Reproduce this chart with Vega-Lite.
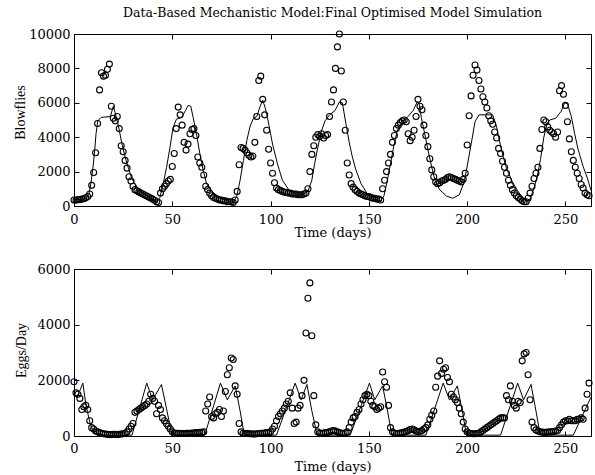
{
"$schema": "https://vega.github.io/schema/vega-lite/v6.json",
"background": "white",
"padding": {"left": 12, "top": 6, "right": 6, "bottom": 4},
"config": {
  "font": "DejaVu Serif",
  "view": {"stroke": "#000", "strokeWidth": 1},
  "axis": {"grid": false, "domain": false, "tickColor": "#000", "tickSize": -5, "tickWidth": 1, "labelColor": "#000", "labelFontSize": 13, "labelFont": "DejaVu Serif", "titleFont": "DejaVu Serif", "titleFontSize": 13, "titleFontWeight": "normal", "titleColor": "#000", "labelFlush": false, "labelOverlap": false, "labelBound": false},
  "title": {"font": "DejaVu Serif", "fontSize": 12.5, "fontWeight": "normal", "color": "#000"}
},
"datasets": {
"flies": [
{"day":0,"value":350},{"day":1,"value":330},{"day":2,"value":380},{"day":3,"value":360},{"day":4,"value":400},{"day":5,"value":420},{"day":6,"value":480},{"day":7,"value":550},{"day":8,"value":700},{"day":9,"value":1200},
{"day":10,"value":1950},{"day":11,"value":3100},{"day":12,"value":4800},{"day":13,"value":6750},{"day":14,"value":7750},{"day":15,"value":7550},{"day":16,"value":7600},{"day":17,"value":7950},{"day":18,"value":8250},{"day":19,"value":5800},
{"day":20,"value":5100},{"day":21,"value":4950},{"day":22,"value":5200},{"day":23,"value":4500},{"day":24,"value":3500},{"day":25,"value":3150},{"day":26,"value":2650},{"day":27,"value":2200},{"day":28,"value":1700},{"day":29,"value":1450},
{"day":30,"value":1150},{"day":31,"value":950},{"day":32,"value":880},{"day":33,"value":820},{"day":34,"value":760},{"day":35,"value":700},{"day":36,"value":640},{"day":37,"value":580},{"day":38,"value":520},{"day":39,"value":460},
{"day":40,"value":400},{"day":41,"value":330},{"day":42,"value":250},{"day":43,"value":200},{"day":44,"value":750},{"day":45,"value":1000},{"day":46,"value":1150},{"day":47,"value":1300},{"day":48,"value":1450},{"day":49,"value":1550},
{"day":50,"value":2300},{"day":51,"value":3050},{"day":52,"value":4500},{"day":53,"value":5750},{"day":54,"value":5300},{"day":55,"value":4700},{"day":56,"value":3700},{"day":57,"value":3250},{"day":58,"value":3600},{"day":59,"value":4200},
{"day":60,"value":4450},{"day":61,"value":4500},{"day":62,"value":4100},{"day":63,"value":2850},{"day":64,"value":2500},{"day":65,"value":2250},{"day":66,"value":1800},{"day":67,"value":1150},{"day":68,"value":950},{"day":69,"value":750},
{"day":70,"value":600},{"day":71,"value":500},{"day":72,"value":450},{"day":73,"value":400},{"day":74,"value":350},{"day":75,"value":350},{"day":76,"value":300},{"day":77,"value":300},{"day":78,"value":250},{"day":79,"value":250},
{"day":80,"value":250},{"day":81,"value":200},{"day":82,"value":350},{"day":83,"value":850},{"day":84,"value":2400},{"day":85,"value":3400},{"day":86,"value":3350},{"day":87,"value":3250},{"day":88,"value":3100},{"day":89,"value":2950},
{"day":90,"value":2850},{"day":91,"value":2900},{"day":92,"value":3700},{"day":93,"value":5200},{"day":94,"value":7300},{"day":95,"value":7550},{"day":96,"value":6200},{"day":97,"value":5300},{"day":98,"value":4400},{"day":99,"value":3300},
{"day":100,"value":2500},{"day":101,"value":1900},{"day":102,"value":1350},{"day":103,"value":1050},{"day":104,"value":950},{"day":105,"value":900},{"day":106,"value":850},{"day":107,"value":800},{"day":108,"value":800},{"day":109,"value":750},
{"day":110,"value":750},{"day":111,"value":700},{"day":112,"value":700},{"day":113,"value":700},{"day":114,"value":650},{"day":115,"value":650},{"day":116,"value":650},{"day":117,"value":700},{"day":118,"value":750},{"day":119,"value":1000},
{"day":120,"value":2000},{"day":121,"value":3000},{"day":122,"value":3500},{"day":123,"value":4000},{"day":124,"value":4150},{"day":125,"value":4050},{"day":126,"value":4200},{"day":127,"value":3950},{"day":128,"value":4100},{"day":129,"value":4150},
{"day":130,"value":5200},{"day":131,"value":6050},{"day":132,"value":6750},{"day":133,"value":8000},{"day":134,"value":9250},{"day":135,"value":10000},{"day":136,"value":7850},{"day":137,"value":6050},{"day":138,"value":4400},{"day":139,"value":2500},
{"day":140,"value":1800},{"day":141,"value":1300},{"day":142,"value":1100},{"day":143,"value":950},{"day":144,"value":850},{"day":145,"value":750},{"day":146,"value":700},{"day":147,"value":650},{"day":148,"value":600},{"day":149,"value":550},
{"day":150,"value":550},{"day":151,"value":500},{"day":152,"value":450},{"day":153,"value":450},{"day":154,"value":400},{"day":155,"value":400},{"day":156,"value":350},{"day":157,"value":1000},{"day":158,"value":1500},{"day":159,"value":2000},
{"day":160,"value":2500},{"day":161,"value":3000},{"day":162,"value":3700},{"day":163,"value":4100},{"day":164,"value":4500},{"day":165,"value":4700},{"day":166,"value":4850},{"day":167,"value":4950},{"day":168,"value":5000},{"day":169,"value":4900},
{"day":170,"value":4200},{"day":171,"value":3800},{"day":172,"value":4000},{"day":173,"value":4400},{"day":174,"value":5200},{"day":175,"value":6200},{"day":176,"value":5800},{"day":177,"value":5600},{"day":178,"value":4700},{"day":179,"value":4100},
{"day":180,"value":3450},{"day":181,"value":2750},{"day":182,"value":2100},{"day":183,"value":1700},{"day":184,"value":1400},{"day":185,"value":1300},{"day":186,"value":1350},{"day":187,"value":1450},{"day":188,"value":1500},{"day":189,"value":1550},
{"day":190,"value":1650},{"day":191,"value":1700},{"day":192,"value":1650},{"day":193,"value":1600},{"day":194,"value":1550},{"day":195,"value":1500},{"day":196,"value":1450},{"day":197,"value":1400},{"day":198,"value":1550},{"day":199,"value":1900},
{"day":200,"value":3550},{"day":201,"value":5250},{"day":202,"value":6400},{"day":203,"value":7600},{"day":204,"value":8200},{"day":205,"value":7900},{"day":206,"value":7300},{"day":207,"value":6800},{"day":208,"value":6350},{"day":209,"value":6050},
{"day":210,"value":5700},{"day":211,"value":5250},{"day":212,"value":4950},{"day":213,"value":4750},{"day":214,"value":4300},{"day":215,"value":3950},{"day":216,"value":3350},{"day":217,"value":3050},{"day":218,"value":2600},{"day":219,"value":2250},
{"day":220,"value":1900},{"day":221,"value":1500},{"day":222,"value":1200},{"day":223,"value":950},{"day":224,"value":750},{"day":225,"value":600},{"day":226,"value":500},{"day":227,"value":400},{"day":228,"value":300},{"day":229,"value":250},
{"day":230,"value":250},{"day":231,"value":450},{"day":232,"value":750},{"day":233,"value":1150},{"day":234,"value":1600},{"day":235,"value":1900},{"day":236,"value":2250},{"day":237,"value":3350},{"day":238,"value":4450},{"day":239,"value":5000},
{"day":240,"value":4900},{"day":241,"value":4600},{"day":242,"value":4400},{"day":243,"value":4300},{"day":244,"value":4200},{"day":245,"value":4000},{"day":246,"value":4300},{"day":247,"value":6700},{"day":248,"value":7000},{"day":249,"value":6500},
{"day":250,"value":5850},{"day":251,"value":4900},{"day":252,"value":3900},{"day":253,"value":3150},{"day":254,"value":2650},{"day":255,"value":2250},{"day":256,"value":1900},{"day":257,"value":1600},{"day":258,"value":1250},{"day":259,"value":1050},
{"day":260,"value":750},{"day":261,"value":650},{"day":262,"value":600}
],
"fliesModel": [
{"day":0,"value":380},{"day":3,"value":380},{"day":6,"value":420},{"day":7.5,"value":650},{"day":8.6,"value":1300},{"day":9.5,"value":2100},{"day":10.4,"value":3050},{"day":11.2,"value":4200},{"day":12.1,"value":4950},{"day":13.8,"value":5150},{"day":18.5,"value":5200},{"day":20,"value":5800},{"day":21,"value":5400},{"day":22.7,"value":4600},{"day":24.4,"value":3600},{"day":26,"value":2850},{"day":27.7,"value":2200},{"day":29.4,"value":1600},{"day":32,"value":1100},{"day":35.3,"value":730},{"day":39.6,"value":400},{"day":42,"value":200},
{"day":43.7,"value":500},{"day":45.4,"value":1300},{"day":47.1,"value":2250},{"day":48.8,"value":3400},{"day":50.4,"value":4550},{"day":52.1,"value":5050},{"day":54.7,"value":5150},{"day":56.7,"value":5550},{"day":58.1,"value":5850},{"day":59.4,"value":5800},{"day":60.6,"value":5150},{"day":62.3,"value":4200},{"day":64,"value":3050},{"day":65.7,"value":2100},{"day":67.4,"value":1300},{"day":70,"value":850},{"day":73.4,"value":550},{"day":76.8,"value":350},{"day":81,"value":200},
{"day":82.8,"value":550},{"day":84.5,"value":1500},{"day":86.2,"value":2650},{"day":87.9,"value":3800},{"day":89.6,"value":4650},{"day":91.3,"value":5100},{"day":93,"value":5200},{"day":94.7,"value":5800},{"day":96,"value":6150},{"day":97.3,"value":5700},{"day":98.4,"value":5150},{"day":101,"value":3600},{"day":103.5,"value":2450},{"day":106,"value":1500},{"day":109.5,"value":900},{"day":113,"value":700},{"day":116,"value":650},
{"day":119,"value":850},{"day":121,"value":1500},{"day":122.4,"value":2450},{"day":124,"value":3400},{"day":126,"value":4400},{"day":127.7,"value":4950},{"day":130,"value":5300},{"day":132.8,"value":5550},{"day":135,"value":6050},{"day":136.5,"value":6000},{"day":138,"value":5000},{"day":140,"value":3700},{"day":141.5,"value":2900},{"day":143.4,"value":2100},{"day":146,"value":1300},{"day":149,"value":750},{"day":152.8,"value":400},{"day":156,"value":300},
{"day":157.7,"value":600},{"day":159.4,"value":1500},{"day":161,"value":2450},{"day":162.7,"value":3500},{"day":164.5,"value":4400},{"day":167,"value":4850},{"day":169.9,"value":5200},{"day":172.5,"value":5550},{"day":174.6,"value":6050},{"day":175.5,"value":6000},{"day":176.7,"value":5150},{"day":178.4,"value":4200},{"day":180,"value":3300},{"day":181.9,"value":2300},{"day":183.6,"value":1500},{"day":186,"value":950},{"day":189.5,"value":580},{"day":192.6,"value":450},
{"day":196,"value":650},{"day":198.5,"value":1400},{"day":200,"value":2300},{"day":202.5,"value":3900},{"day":204,"value":4900},{"day":206,"value":5300},{"day":213,"value":5300},{"day":215,"value":4600},{"day":216.8,"value":3600},{"day":218.5,"value":2800},{"day":220,"value":2200},{"day":223,"value":1400},{"day":225.6,"value":900},{"day":228,"value":500},{"day":230,"value":300},
{"day":232,"value":400},{"day":233.9,"value":1000},{"day":235.6,"value":1700},{"day":237.3,"value":2700},{"day":239,"value":4000},{"day":240.7,"value":4800},{"day":242,"value":5000},{"day":245,"value":5100},{"day":247.8,"value":5500},{"day":249.6,"value":6000},{"day":251,"value":5950},{"day":253,"value":5200},{"day":254.7,"value":4200},{"day":256.4,"value":3300},{"day":259,"value":2300},{"day":261.5,"value":1500},{"day":263,"value":900}
],
"eggs": [
{"day":0,"value":1950},{"day":1,"value":1550},{"day":2,"value":1500},{"day":3,"value":1350},{"day":4,"value":950},{"day":5,"value":1050},{"day":6,"value":1100},{"day":7,"value":950},{"day":8,"value":550},{"day":9,"value":300},
{"day":10,"value":250},{"day":11,"value":180},{"day":12,"value":150},{"day":13,"value":120},{"day":14,"value":100},{"day":15,"value":80},{"day":16,"value":70},{"day":17,"value":60},{"day":18,"value":50},{"day":19,"value":50},
{"day":20,"value":60},{"day":21,"value":60},{"day":22,"value":50},{"day":23,"value":60},{"day":24,"value":70},{"day":25,"value":80},{"day":26,"value":100},{"day":27,"value":150},{"day":28,"value":250},{"day":29,"value":350},
{"day":30,"value":450},{"day":31,"value":850},{"day":32,"value":900},{"day":33,"value":950},{"day":34,"value":1000},{"day":35,"value":1050},{"day":36,"value":1100},{"day":37,"value":1150},{"day":38,"value":1250},{"day":39,"value":1500},
{"day":40,"value":1350},{"day":41,"value":1250},{"day":42,"value":800},{"day":43,"value":1100},{"day":44,"value":950},{"day":45,"value":650},{"day":46,"value":550},{"day":47,"value":450},{"day":48,"value":350},{"day":49,"value":250},
{"day":50,"value":150},{"day":51,"value":100},{"day":52,"value":100},{"day":53,"value":100},{"day":54,"value":90},{"day":55,"value":90},{"day":56,"value":90},{"day":57,"value":100},{"day":58,"value":100},{"day":59,"value":100},
{"day":60,"value":110},{"day":61,"value":110},{"day":62,"value":120},{"day":63,"value":120},{"day":64,"value":130},{"day":65,"value":130},{"day":66,"value":150},{"day":67,"value":900},{"day":68,"value":1150},{"day":69,"value":1400},
{"day":70,"value":700},{"day":71,"value":650},{"day":72,"value":800},{"day":73,"value":850},{"day":74,"value":950},{"day":75,"value":700},{"day":76,"value":900},{"day":77,"value":1600},{"day":78,"value":2200},{"day":79,"value":2450},
{"day":80,"value":2800},{"day":81,"value":2750},{"day":82,"value":1800},{"day":83,"value":1500},{"day":84,"value":450},{"day":85,"value":150},{"day":86,"value":100},{"day":87,"value":90},{"day":88,"value":90},{"day":89,"value":80},
{"day":90,"value":80},{"day":91,"value":70},{"day":92,"value":70},{"day":93,"value":80},{"day":94,"value":90},{"day":95,"value":100},{"day":96,"value":100},{"day":97,"value":110},{"day":98,"value":120},{"day":99,"value":130},
{"day":100,"value":150},{"day":101,"value":250},{"day":102,"value":350},{"day":103,"value":550},{"day":104,"value":700},{"day":105,"value":800},{"day":106,"value":900},{"day":107,"value":1000},{"day":108,"value":1150},{"day":109,"value":1250},
{"day":110,"value":1550},{"day":111,"value":1000},{"day":112,"value":450},{"day":113,"value":500},{"day":114,"value":1000},{"day":115,"value":1100},{"day":116,"value":1450},{"day":117,"value":2000},{"day":118,"value":3700},{"day":119,"value":4950},
{"day":120,"value":5500},{"day":121,"value":3600},{"day":122,"value":1450},{"day":123,"value":400},{"day":124,"value":150},{"day":125,"value":100},{"day":126,"value":100},{"day":127,"value":110},{"day":128,"value":120},{"day":129,"value":130},
{"day":130,"value":150},{"day":131,"value":180},{"day":132,"value":200},{"day":133,"value":180},{"day":134,"value":150},{"day":135,"value":120},{"day":136,"value":100},{"day":137,"value":100},{"day":138,"value":110},{"day":139,"value":150},
{"day":140,"value":300},{"day":141,"value":500},{"day":142,"value":650},{"day":143,"value":700},{"day":144,"value":850},{"day":145,"value":950},{"day":146,"value":1150},{"day":147,"value":1300},{"day":148,"value":1450},{"day":149,"value":1500},
{"day":150,"value":1450},{"day":151,"value":1250},{"day":152,"value":1100},{"day":153,"value":1050},{"day":154,"value":950},{"day":155,"value":1000},{"day":156,"value":1050},{"day":157,"value":2300},{"day":158,"value":1950},{"day":159,"value":1750},
{"day":160,"value":1100},{"day":161,"value":300},{"day":162,"value":150},{"day":163,"value":100},{"day":164,"value":90},{"day":165,"value":100},{"day":166,"value":110},{"day":167,"value":120},{"day":168,"value":140},{"day":169,"value":160},
{"day":170,"value":200},{"day":171,"value":230},{"day":172,"value":250},{"day":173,"value":220},{"day":174,"value":180},{"day":175,"value":150},{"day":176,"value":170},{"day":177,"value":200},{"day":178,"value":250},{"day":179,"value":300},
{"day":180,"value":400},{"day":181,"value":600},{"day":182,"value":750},{"day":183,"value":900},{"day":184,"value":1750},{"day":185,"value":2150},{"day":186,"value":2700},{"day":187,"value":2250},{"day":188,"value":2400},{"day":189,"value":2450},
{"day":190,"value":2100},{"day":191,"value":1950},{"day":192,"value":1500},{"day":193,"value":1400},{"day":194,"value":1300},{"day":195,"value":1200},{"day":196,"value":1000},{"day":197,"value":800},{"day":198,"value":500},{"day":199,"value":250},
{"day":200,"value":150},{"day":201,"value":100},{"day":202,"value":90},{"day":203,"value":80},{"day":204,"value":80},{"day":205,"value":90},{"day":206,"value":100},{"day":207,"value":150},{"day":208,"value":200},{"day":209,"value":250},
{"day":210,"value":300},{"day":211,"value":350},{"day":212,"value":400},{"day":213,"value":450},{"day":214,"value":500},{"day":215,"value":550},{"day":216,"value":600},{"day":217,"value":650},{"day":218,"value":650},{"day":219,"value":650},
{"day":220,"value":1450},{"day":221,"value":1300},{"day":222,"value":1800},{"day":223,"value":1250},{"day":224,"value":1100},{"day":225,"value":1000},{"day":226,"value":1250},{"day":227,"value":1200},{"day":228,"value":2700},{"day":229,"value":2950},
{"day":230,"value":3000},{"day":231,"value":2200},{"day":232,"value":1300},{"day":233,"value":500},{"day":234,"value":300},{"day":235,"value":220},{"day":236,"value":180},{"day":237,"value":150},{"day":238,"value":140},{"day":239,"value":130},
{"day":240,"value":130},{"day":241,"value":140},{"day":242,"value":150},{"day":243,"value":150},{"day":244,"value":160},{"day":245,"value":180},{"day":246,"value":200},{"day":247,"value":300},{"day":248,"value":400},{"day":249,"value":500},
{"day":250,"value":550},{"day":251,"value":550},{"day":252,"value":600},{"day":253,"value":550},{"day":254,"value":550},{"day":255,"value":550},{"day":256,"value":600},{"day":257,"value":600},{"day":258,"value":650},{"day":259,"value":600},
{"day":260,"value":1000},{"day":261,"value":1500},{"day":262,"value":1900}
],
"eggsModel": [
{"day":0,"value":1500},{"day":1.5,"value":1380},{"day":4.5,"value":1900},{"day":6,"value":1150},{"day":8,"value":500},{"day":10,"value":120},{"day":12,"value":30},{"day":29.5,"value":30},
{"day":37,"value":1900},{"day":40,"value":1300},{"day":44.5,"value":1850},{"day":47,"value":1000},{"day":49.5,"value":150},{"day":51,"value":30},{"day":66.5,"value":30},
{"day":74.5,"value":1900},{"day":78,"value":1300},{"day":82,"value":1800},{"day":84.5,"value":900},{"day":86.5,"value":100},{"day":88,"value":30},{"day":103,"value":30},
{"day":112.5,"value":1900},{"day":115.5,"value":1300},{"day":118.5,"value":1850},{"day":121,"value":900},{"day":123.5,"value":100},{"day":125,"value":30},{"day":140.5,"value":30},
{"day":150.3,"value":1900},{"day":153,"value":1300},{"day":157,"value":1800},{"day":159.5,"value":900},{"day":161.5,"value":100},{"day":163,"value":30},{"day":179,"value":30},
{"day":187.8,"value":1900},{"day":191,"value":1300},{"day":195,"value":1800},{"day":197.5,"value":900},{"day":199.5,"value":100},{"day":201,"value":30},{"day":217,"value":30},
{"day":225.7,"value":1900},{"day":228.7,"value":1300},{"day":232.5,"value":1850},{"day":235,"value":900},{"day":237,"value":100},{"day":238.5,"value":30},{"day":254,"value":30},{"day":263,"value":1400}
]
},
"spacing": 63,
"bounds": "flush",
"vconcat": [
{
  "title": {"text": "Data-Based Mechanistic Model:Final Optimised Model Simulation", "anchor": "middle", "frame": "group", "offset": 9},
  "width": 517, "height": 172,
  "layer": [
    {"data": {"name": "flies"},
     "mark": {"type": "point", "shape": "circle", "filled": false, "size": 36, "color": "#000", "strokeWidth": 1.1, "opacity": 1},
     "encoding": {
       "x": {"field": "day", "type": "quantitative", "scale": {"domain": [0, 263], "nice": false, "zero": false},
             "axis": {"orient": "bottom", "values": [0,50,100,150,200,250], "title": "Time (days)", "labelPadding": 18, "labelBaseline": "middle", "titleY": 26, "titleBaseline": "middle"}},
       "y": {"field": "value", "type": "quantitative", "scale": {"domain": [0, 10000], "nice": false},
             "axis": {"orient": "left", "values": [0,2000,4000,6000,8000,10000], "format": "d", "labelPadding": 9, "title": "Blowflies", "titleX": -54, "titleY": 78, "titleBaseline": "middle", "titleAngle": 270, "titleFont": "Liberation Serif", "titleFontSize": 14}}
     }},
    {"data": {"name": "fliesModel"},
     "mark": {"type": "line", "color": "#000", "strokeWidth": 1},
     "encoding": {
       "x": {"field": "day", "type": "quantitative", "axis": {"orient": "top", "values": [0,50,100,150,200,250], "labels": false, "title": null}},
       "y": {"field": "value", "type": "quantitative", "axis": {"orient": "right", "values": [0,2000,4000,6000,8000,10000], "labels": false, "title": null}}
     }}
  ],
  "resolve": {"axis": {"x": "independent", "y": "independent"}}
},
{
  "width": 517, "height": 167,
  "layer": [
    {"data": {"name": "eggs"},
     "mark": {"type": "point", "shape": "circle", "filled": false, "size": 36, "color": "#000", "strokeWidth": 1.1, "opacity": 1},
     "encoding": {
       "x": {"field": "day", "type": "quantitative", "scale": {"domain": [0, 263], "nice": false, "zero": false},
             "axis": {"orient": "bottom", "values": [0,50,100,150,200,250], "title": "Time (days)", "labelPadding": 17, "labelBaseline": "middle", "titleY": 30, "titleBaseline": "middle"}},
       "y": {"field": "value", "type": "quantitative", "scale": {"domain": [0, 6000], "nice": false},
             "axis": {"orient": "left", "values": [0,2000,4000,6000], "format": "d", "labelPadding": 9, "title": "Eggs/Day", "titleX": -53, "titleY": 81, "titleBaseline": "middle", "titleAngle": 270, "titleFont": "Liberation Serif", "titleFontSize": 14}}
     }},
    {"data": {"name": "eggsModel"},
     "mark": {"type": "line", "color": "#000", "strokeWidth": 1},
     "encoding": {
       "x": {"field": "day", "type": "quantitative", "axis": {"orient": "top", "values": [0,50,100,150,200,250], "labels": false, "title": null}},
       "y": {"field": "value", "type": "quantitative", "axis": {"orient": "right", "values": [0,2000,4000,6000], "labels": false, "title": null}}
     }}
  ],
  "resolve": {"axis": {"x": "independent", "y": "independent"}}
}
]
}
